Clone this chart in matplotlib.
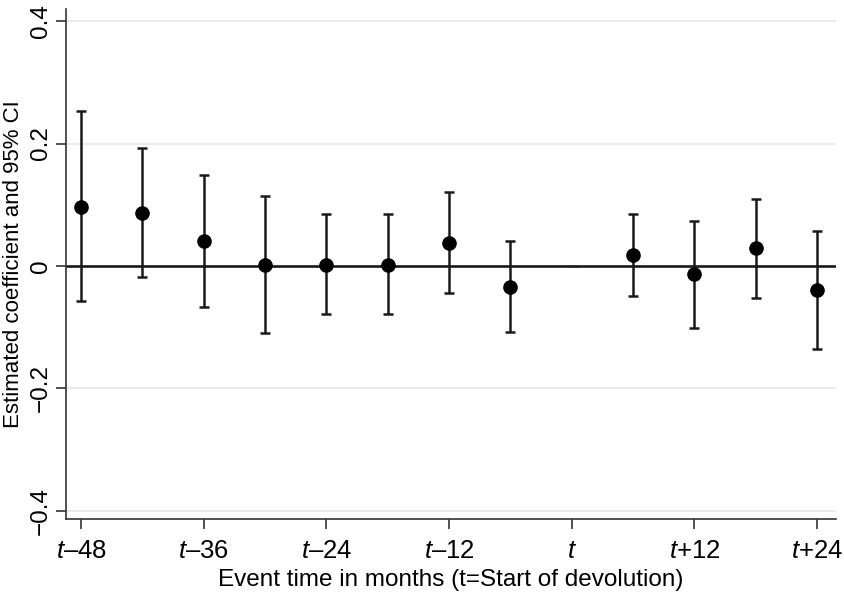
import matplotlib
matplotlib.use("Agg")
import matplotlib.pyplot as plt

plt.rcParams['font.family'] = ['Liberation Sans', 'DejaVu Sans']
plt.rcParams['mathtext.fontset'] = 'custom'
plt.rcParams['mathtext.it'] = 'Liberation Sans:italic'
plt.rcParams['mathtext.rm'] = 'Liberation Sans'

# Event time in months relative to start of devolution (t = 0 is the omitted reference)
months = [-48, -42, -36, -30, -24, -18, -12, -6, 6, 12, 18, 24]
coef = [0.097, 0.087, 0.041, 0.002, 0.002, 0.002, 0.038, -0.034, 0.017, -0.014, 0.029, -0.040]
ci_low = [-0.058, -0.019, -0.068, -0.110, -0.078, -0.079, -0.045, -0.108, -0.049, -0.101, -0.052, -0.136]
ci_high = [0.253, 0.193, 0.149, 0.115, 0.084, 0.084, 0.121, 0.040, 0.085, 0.073, 0.110, 0.057]
ref_month = [0]
ref_coef = [0.0]

xtick_pos = [-48, -36, -24, -12, 0, 12, 24]
xtick_labels = [r"$\mathit{t}$–48", r"$\mathit{t}$–36", r"$\mathit{t}$–24", r"$\mathit{t}$–12",
                r"$\mathit{t}$", r"$\mathit{t}$+12", r"$\mathit{t}$+24"]
ytick_pos = [-0.4, -0.2, 0, 0.2, 0.4]
ytick_labels = ["−0.4", "−0.2", "0", "0.2", "0.4"]

fig = plt.figure(figsize=(8.44, 5.98), dpi=100)
ax = fig.add_axes([0.078, 0.132, 0.913, 0.853])

for y in [-0.4, -0.2, 0.2, 0.4]:
    ax.axhline(y, color='#e8e8e8', lw=1.2, zorder=0)
ax.axhline(0, color='#1a1a1a', lw=1.9, zorder=1)

err_lo = [c - l for c, l in zip(coef, ci_low)]
err_hi = [h - c for c, h in zip(coef, ci_high)]
ax.errorbar(months, coef, yerr=[err_lo, err_hi], fmt='o', color='black',
            ecolor='#1a1a1a', elinewidth=1.8, capsize=3.8, capthick=1.8,
            markersize=9.5, zorder=3)
ax.plot(ref_month, ref_coef, marker='_', color='#1a1a1a', markersize=10, zorder=2)

ax.set_xlim(-49.5, 25.9)
ax.set_ylim(-0.414, 0.42)
ax.set_xticks(xtick_pos)
ax.set_xticklabels(xtick_labels, fontsize=18.5)
ax.set_yticks(ytick_pos)
ax.set_yticklabels(ytick_labels, fontsize=17.5, rotation=90, va='center')
ax.tick_params(axis='both', direction='out', length=7, width=1.2, color='#333333')
ax.tick_params(axis='x', pad=7)
ax.tick_params(axis='y', pad=3)

ax.spines['top'].set_visible(False)
ax.spines['right'].set_visible(False)
for s in ['left', 'bottom']:
    ax.spines[s].set_linewidth(1.2)
    ax.spines[s].set_color('#333333')

ax.set_xlabel("Event time in months (t=Start of devolution)", fontsize=17.5, labelpad=5)
ax.set_ylabel("Estimated coefficient and 95% CI", fontsize=16, labelpad=4)

fig.savefig("out.png", dpi=100)
